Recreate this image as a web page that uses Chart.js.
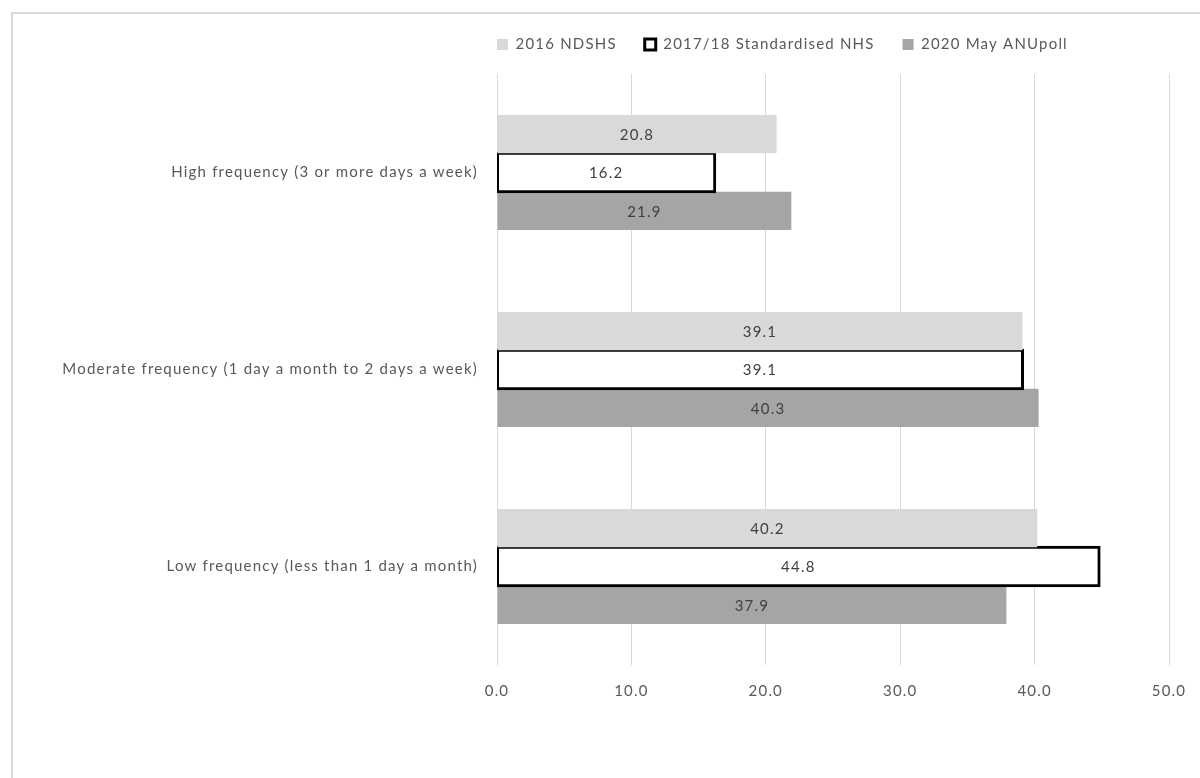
<!DOCTYPE html>
<html>
<head>
<meta charset="utf-8">
<style>
  html, body { margin: 0; padding: 0; background: #ffffff; }
  #wrap { position: relative; width: 1200px; height: 778px; }
</style>
<script src="https://cdn.jsdelivr.net/npm/chart.js@4.4.1/dist/chart.umd.min.js"></script>
</head>
<body>
<div id="wrap"><canvas id="chart" width="1200" height="778"></canvas></div>
<script>
// Cannabis use frequency among recent users, by survey (%)
const categories = [
  'High frequency (3 or more days a week)',
  'Moderate frequency (1 day a month to 2 days a week)',
  'Low frequency (less than 1 day a month)'
];
const seriesNames = ['2016 NDSHS', '2017/18 Standardised NHS', '2020 May ANUpoll'];
const ndshs2016 = [20.8, 39.1, 40.2];
const nhs2017 = [16.2, 39.1, 44.8];
const anupoll2020 = [21.9, 40.3, 37.9];
const xTicks = [0, 10, 20, 30, 40, 50];

const FONT = 'Lato, Carlito, "Liberation Sans", sans-serif';
const TEXT = '#595959';
const SPACING = '1.2px';
const TOP_PAD = 9;

// Slightly open tracking for all chart text
const tracking = {
  id: 'tracking',
  beforeUpdate(chart) { chart.ctx.letterSpacing = SPACING; },
  beforeDraw(chart) { chart.ctx.letterSpacing = SPACING; }
};

// Frame around the chart and white background
const framePlugin = {
  id: 'frame',
  beforeDraw(chart) {
    const ctx = chart.ctx;
    ctx.save();
    ctx.fillStyle = '#ffffff';
    ctx.fillRect(0, 0, chart.width, chart.height);
    ctx.strokeStyle = '#d9d9d9';
    ctx.lineWidth = 2;
    ctx.strokeRect(12, 13, chart.width + 20, chart.height + 20);
    ctx.restore();
  }
};

// Legend spacing: fixed height and left start
const legendPlacement = {
  id: 'legendPlacement',
  afterInit(chart) {
    const lg = chart.legend;
    const fit = lg.fit.bind(lg);
    lg.fit = function () { fit(); this.height = 74 - TOP_PAD; };
  },
  afterLayout(chart) {
    const lg = chart.legend;
    const w = lg.right - lg.left;
    lg.left = 497 - 28;
    lg.right = lg.left + w;
  }
};

// Value labels centred in each bar
const valueLabels = {
  id: 'valueLabels',
  afterDatasetsDraw(chart) {
    const ctx = chart.ctx;
    ctx.save();
    ctx.font = '15px ' + FONT;
    ctx.fillStyle = '#404040';
    ctx.textAlign = 'center';
    ctx.textBaseline = 'middle';
    chart.data.datasets.forEach((ds, di) => {
      const meta = chart.getDatasetMeta(di);
      meta.data.forEach((bar, i) => {
        const c = bar.getCenterPoint();
        ctx.fillText(ds.data[i].toFixed(1), c.x, c.y + 1);
      });
    });
    ctx.restore();
  }
};

new Chart(document.getElementById('chart'), {
  type: 'bar',
  data: {
    labels: categories,
    datasets: [
      { label: seriesNames[0], data: ndshs2016, backgroundColor: '#d9d9d9', borderWidth: 0 },
      { label: seriesNames[1], data: nhs2017, backgroundColor: '#ffffff', borderColor: '#000000',
        borderWidth: 3, borderSkipped: false, inflateAmount: 1.5 },
      { label: seriesNames[2], data: anupoll2020, backgroundColor: '#a5a5a5', borderWidth: 0 }
    ]
  },
  options: {
    indexAxis: 'y',
    responsive: false,
    animation: false,
    devicePixelRatio: 1,
    layout: { padding: { top: TOP_PAD, right: 31, bottom: 0, left: 0 } },
    datasets: { bar: { barPercentage: 1.0, categoryPercentage: 0.585 } },
    scales: {
      x: {
        min: 0, max: 50,
        afterBuildTicks(scale) { scale.ticks = xTicks.map(v => ({ value: v })); },
        afterFit(scale) {
          scale.height = 113;
          scale.paddingLeft = 0;
          scale.paddingRight = 0;
        },
        grid: { color: '#d9d9d9', lineWidth: 1, drawTicks: false },
        border: { display: false },
        ticks: {
          padding: 17,
          color: TEXT,
          font: { family: FONT, size: 15 },
          callback: v => Number(v).toFixed(1)
        }
      },
      y: {
        afterFit(scale) { scale.width = 497; },
        grid: { display: false, drawTicks: false },
        border: { display: false },
        ticks: { padding: 19, color: TEXT, font: { family: FONT, size: 15 } }
      }
    },
    plugins: {
      legend: {
        position: 'top',
        align: 'start',
        labels: {
          boxWidth: 11,
          boxHeight: 11,
          padding: 28,
          color: TEXT,
          font: { family: FONT, size: 15 }
        }
      },
      tooltip: { enabled: false }
    }
  },
  plugins: [tracking, framePlugin, legendPlacement, valueLabels]
});
</script>
</body>
</html>
